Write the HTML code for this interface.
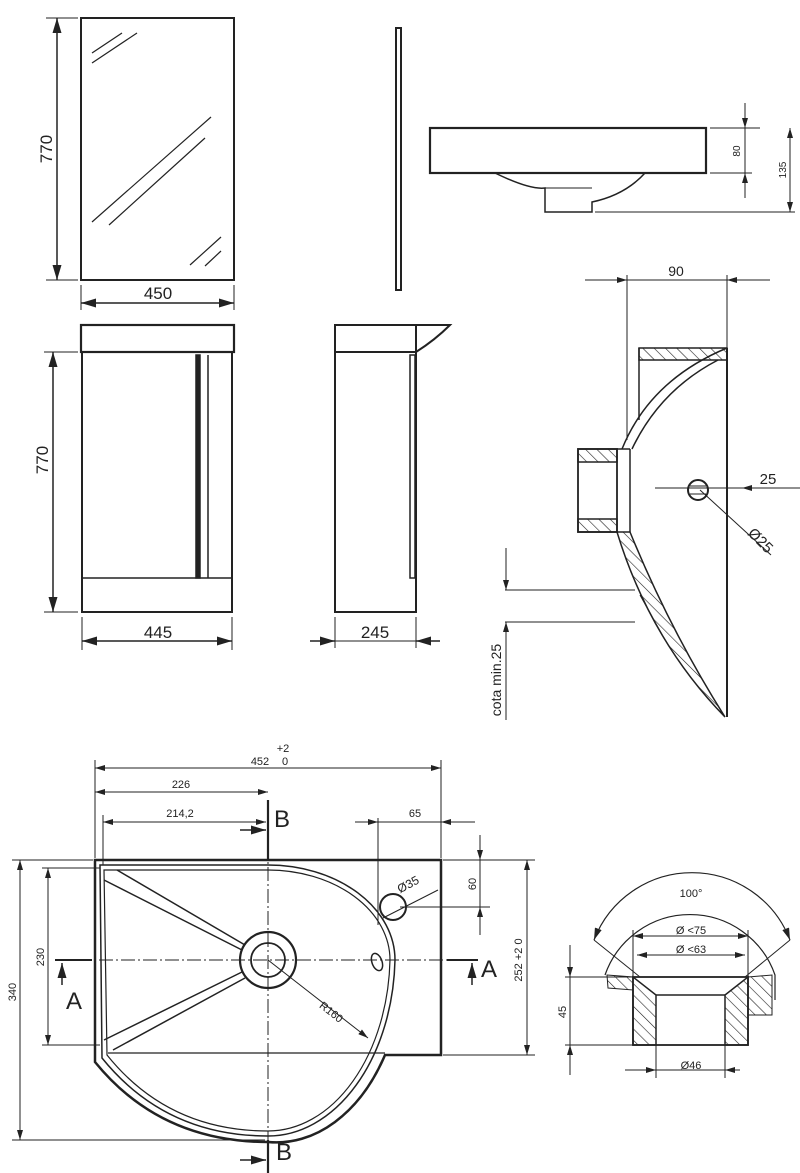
<!DOCTYPE html>
<html><head><meta charset="utf-8"><style>
html,body{margin:0;padding:0;background:#fff}
svg{display:block}
text{font-family:"Liberation Sans",sans-serif;fill:#222}
</style></head><body>
<svg width="800" height="1173" viewBox="0 0 800 1173" xmlns="http://www.w3.org/2000/svg">
<defs>
<marker id="a" viewBox="0 0 10 6" refX="10" refY="3" markerWidth="10" markerHeight="6" orient="auto-start-reverse"><path d="M0,0L10,3L0,6z" fill="#222"/></marker>
<pattern id="h" width="8" height="8" patternUnits="userSpaceOnUse" patternTransform="rotate(-45)"><line x1="0" y1="0" x2="0" y2="8" stroke="#222" stroke-width="1.2"/></pattern>
</defs>
<g fill="none" stroke="#222" stroke-width="1.5">
<!-- mirror -->
<rect x="81" y="18" width="153" height="262" stroke-width="2"/>
<line x1="92" y1="53" x2="122" y2="33" stroke-width="1.2"/><line x1="92" y1="63" x2="137" y2="33" stroke-width="1.2"/>
<line x1="92" y1="222" x2="211" y2="117" stroke-width="1.2"/><line x1="109" y1="225" x2="205" y2="138" stroke-width="1.2"/>
<line x1="190" y1="265" x2="221" y2="237" stroke-width="1.2"/><line x1="205" y1="266" x2="221" y2="251" stroke-width="1.2"/>
<line x1="46" y1="18" x2="78" y2="18" stroke-width="1"/><line x1="46" y1="280" x2="78" y2="280" stroke-width="1"/>
<line x1="57" y1="18" x2="57" y2="280" marker-start="url(#a)" marker-end="url(#a)"/>
<line x1="81" y1="285" x2="81" y2="310" stroke-width="1"/><line x1="234" y1="285" x2="234" y2="310" stroke-width="1"/>
<line x1="81" y1="303" x2="234" y2="303" marker-start="url(#a)" marker-end="url(#a)"/>
<!-- cabinet front -->
<rect x="81" y="325" width="153" height="27" stroke-width="2.2"/>
<rect x="82" y="352" width="150" height="260" stroke-width="2"/>
<line x1="82" y1="578" x2="232" y2="578"/>
<rect x="196" y="355" width="4" height="223" fill="#222"/>
<line x1="208" y1="355" x2="208" y2="578"/>
<line x1="44" y1="352" x2="78" y2="352" stroke-width="1"/><line x1="44" y1="612" x2="78" y2="612" stroke-width="1"/>
<line x1="53" y1="352" x2="53" y2="612" marker-start="url(#a)" marker-end="url(#a)"/>
<line x1="82" y1="617" x2="82" y2="650" stroke-width="1"/><line x1="232" y1="617" x2="232" y2="650" stroke-width="1"/>
<line x1="82" y1="641" x2="232" y2="641" marker-start="url(#a)" marker-end="url(#a)"/>
<!-- side mirror -->
<rect x="396" y="28" width="5" height="262" stroke-width="2"/>
<!-- side cabinet -->
<rect x="335" y="325" width="81" height="27" stroke-width="2"/>
<path d="M416,325 L450,325 Q435,340 416,352" stroke-width="2"/>
<rect x="335" y="352" width="81" height="260" stroke-width="2"/>
<rect x="410" y="355" width="5" height="223"/>
<line x1="335" y1="617" x2="335" y2="648" stroke-width="1"/><line x1="416" y1="617" x2="416" y2="648" stroke-width="1"/>
<line x1="310" y1="641" x2="335" y2="641" marker-end="url(#a)"/><line x1="440" y1="641" x2="416" y2="641" marker-end="url(#a)"/>
<line x1="335" y1="641" x2="416" y2="641" stroke-width="1"/>
<!-- basin side -->
<rect x="430" y="128" width="276" height="45" stroke-width="2.2"/>
<path d="M495,173 Q530,190 545,188 L545,212 L592,212 L592,202 Q625,195 645,173"/>
<line x1="545" y1="188" x2="592" y2="188" stroke-width="1"/>
<g stroke-width="1">
<line x1="710" y1="128" x2="760" y2="128"/><line x1="710" y1="173" x2="752" y2="173"/><line x1="595" y1="212" x2="795" y2="212"/>
<line x1="745" y1="103" x2="745" y2="128" marker-end="url(#a)"/><line x1="745" y1="198" x2="745" y2="173" marker-end="url(#a)"/>
<line x1="745" y1="128" x2="745" y2="173"/>
<line x1="790" y1="128" x2="790" y2="212" marker-start="url(#a)" marker-end="url(#a)"/>
</g>
<!-- section view right -->
<g stroke-width="1">
<line x1="585" y1="280" x2="627" y2="280" marker-end="url(#a)"/><line x1="770" y1="280" x2="727" y2="280" marker-end="url(#a)"/>
<line x1="627" y1="280" x2="727" y2="280"/>
<line x1="627" y1="275" x2="627" y2="440"/><line x1="727" y1="275" x2="727" y2="348"/>
</g>
<rect x="639" y="348" width="88" height="12" fill="url(#h)"/>
<line x1="639" y1="348" x2="639" y2="420"/>
<line x1="727" y1="348" x2="727" y2="717" stroke-width="2"/>
<path d="M727,348 Q650,380 622,449" fill="none"/>
<path d="M718,360 Q660,390 632,449" fill="none"/>
<rect x="578" y="449" width="39" height="83" stroke-width="1.8"/>
<rect x="578" y="449" width="39" height="13" fill="url(#h)"/>
<rect x="578" y="519" width="39" height="13" fill="url(#h)"/>
<line x1="617" y1="449" x2="630" y2="449"/><line x1="630" y1="449" x2="630" y2="532"/>
<path d="M617,532 Q650,640 725,717 Q670,630 630,532 Z" fill="url(#h)"/>
<circle cx="698" cy="490" r="10" stroke-width="2"/>
<line x1="690" y1="486" x2="706" y2="486" stroke-width="1"/><line x1="690" y1="494" x2="706" y2="494" stroke-width="1"/>
<g stroke-width="1">
<line x1="655" y1="488" x2="780" y2="488"/><line x1="800" y1="488" x2="742" y2="488" marker-end="url(#a)"/>
<line x1="700" y1="490" x2="771" y2="555"/>
<line x1="505" y1="590" x2="635" y2="590"/><line x1="505" y1="622" x2="635" y2="622"/>
<line x1="506" y1="548" x2="506" y2="590" marker-end="url(#a)"/><line x1="506" y1="720" x2="506" y2="622" marker-end="url(#a)"/>
<line x1="640" y1="595" x2="665" y2="640"/>
</g>
<!-- plan view -->
<g stroke-width="1">
<line x1="95" y1="760" x2="95" y2="858"/><line x1="441" y1="760" x2="441" y2="858"/>
<line x1="95" y1="768" x2="441" y2="768" marker-start="url(#a)" marker-end="url(#a)"/>
<line x1="95" y1="792" x2="268" y2="792" marker-start="url(#a)" marker-end="url(#a)"/>
<line x1="103" y1="815" x2="103" y2="865"/>
<line x1="103" y1="822" x2="266" y2="822" marker-start="url(#a)" marker-end="url(#a)"/>
<line x1="355" y1="822" x2="378" y2="822" marker-end="url(#a)"/><line x1="475" y1="822" x2="441" y2="822" marker-end="url(#a)"/>
<line x1="378" y1="822" x2="441" y2="822"/>
<line x1="378" y1="818" x2="378" y2="925"/>
<line x1="443" y1="860" x2="535" y2="860"/><line x1="400" y1="907" x2="490" y2="907"/>
<line x1="480" y1="835" x2="480" y2="860" marker-end="url(#a)"/><line x1="480" y1="935" x2="480" y2="907" marker-end="url(#a)"/>
<line x1="480" y1="860" x2="480" y2="907"/>
<line x1="527" y1="860" x2="527" y2="1055" marker-start="url(#a)" marker-end="url(#a)"/>
<line x1="443" y1="1055" x2="535" y2="1055"/>
<line x1="12" y1="860" x2="93" y2="860"/><line x1="12" y1="1140" x2="265" y2="1140"/>
<line x1="20" y1="860" x2="20" y2="1140" marker-start="url(#a)" marker-end="url(#a)"/>
<line x1="42" y1="868" x2="100" y2="868"/><line x1="42" y1="1045" x2="100" y2="1045"/>
<line x1="48" y1="868" x2="48" y2="1045" marker-start="url(#a)" marker-end="url(#a)"/>
<line x1="55" y1="960" x2="470" y2="960" stroke-dasharray="14,3,2,3"/>
<line x1="268" y1="845" x2="268" y2="1150" stroke-dasharray="14,3,2,3"/>
<line x1="268" y1="960" x2="368" y2="1038" marker-end="url(#a)"/>
<line x1="383" y1="918" x2="438" y2="890"/>
</g>
<line x1="55" y1="960" x2="92" y2="960" stroke-width="2"/><line x1="62" y1="985" x2="62" y2="963" marker-end="url(#a)"/>
<line x1="447" y1="960" x2="478" y2="960" stroke-width="2"/><line x1="472" y1="985" x2="472" y2="963" marker-end="url(#a)"/>
<line x1="268" y1="800" x2="268" y2="860" stroke-width="2.2"/><line x1="240" y1="830" x2="266" y2="830" marker-end="url(#a)"/>
<line x1="268" y1="1140" x2="268" y2="1173" stroke-width="2.2"/><line x1="240" y1="1160" x2="266" y2="1160" marker-end="url(#a)"/>
<path d="M95,860 L441,860 L441,1055 L385,1055 A127,182 0 0 1 268,1142 Q160,1142 95,1062 Z" stroke-width="2.5"/>
<path d="M100,865 L268,865 A127,95 0 0 1 395,960 A127,182 0 0 1 268,1136 Q165,1136 102,1058 Z" stroke-width="1.5"/>
<path d="M104,870 L268,870 A122,90 0 0 1 390,960 A122,177 0 0 1 268,1131 Q168,1131 107,1055 Z" stroke-width="1.2"/>
<line x1="108" y1="1053" x2="385" y2="1053" stroke-width="1.2"/>
<line x1="117" y1="870" x2="245" y2="945"/><line x1="104" y1="880" x2="242" y2="950"/>
<line x1="104" y1="1040" x2="242" y2="972"/><line x1="113" y1="1050" x2="245" y2="978"/>
<circle cx="268" cy="960" r="28" stroke-width="2.2"/>
<circle cx="268" cy="960" r="17" stroke-width="1.8"/>
<circle cx="393" cy="907" r="13" stroke-width="2"/>
<ellipse cx="377" cy="962" rx="5" ry="9" stroke-width="1.5" transform="rotate(-20 377 962)"/>
<!-- bottom right detail -->
<path d="M594,940 A105,105 0 0 1 790,940" stroke-width="1.2" marker-start="url(#a)" marker-end="url(#a)"/>
<path d="M605,975 A90,90 0 0 1 775,975 L775,1000" stroke-width="1.2"/>
<line x1="594" y1="940" x2="640" y2="977" stroke-width="1"/><line x1="790" y1="940" x2="745" y2="977" stroke-width="1"/>
<path d="M607,975 L633,977 L633,990 L608,988 Z" fill="url(#h)" stroke-width="1"/>
<path d="M748,977 L772,975 L772,1015 L748,1015 Z" fill="url(#h)" stroke-width="1"/>
<rect x="633" y="977" width="115" height="68" stroke-width="1.8"/>
<path d="M633,977 L656,995 L656,1045 L633,1045 Z" fill="url(#h)" stroke-width="1.5"/>
<path d="M748,977 L725,995 L725,1045 L748,1045 Z" fill="url(#h)" stroke-width="1.5"/>
<line x1="656" y1="995" x2="725" y2="995" stroke-width="1.5"/>
<g stroke-width="1">
<line x1="633" y1="936" x2="748" y2="936" marker-start="url(#a)" marker-end="url(#a)"/>
<line x1="637" y1="955" x2="745" y2="955" marker-start="url(#a)" marker-end="url(#a)"/>
<line x1="633" y1="930" x2="633" y2="977"/><line x1="748" y1="930" x2="748" y2="977"/>
<line x1="565" y1="977" x2="633" y2="977"/><line x1="565" y1="1045" x2="633" y2="1045"/>
<line x1="570" y1="945" x2="570" y2="977" marker-end="url(#a)"/><line x1="570" y1="1075" x2="570" y2="1045" marker-end="url(#a)"/>
<line x1="570" y1="977" x2="570" y2="1045"/>
<line x1="656" y1="1045" x2="656" y2="1078"/><line x1="725" y1="1045" x2="725" y2="1078"/>
<line x1="625" y1="1070" x2="656" y2="1070" marker-end="url(#a)"/><line x1="740" y1="1070" x2="725" y2="1070" marker-end="url(#a)"/>
<line x1="656" y1="1070" x2="725" y2="1070"/>
</g>
</g>
<!-- texts -->
<text x="52" y="149" font-size="17" transform="rotate(-90 52 149)" text-anchor="middle">770</text>
<text x="158" y="299" font-size="17" text-anchor="middle">450</text>
<text x="48" y="460" font-size="17" transform="rotate(-90 48 460)" text-anchor="middle">770</text>
<text x="158" y="638" font-size="17" text-anchor="middle">445</text>
<text x="375" y="638" font-size="17" text-anchor="middle">245</text>
<text x="740" y="151" font-size="10" transform="rotate(-90 740 151)" text-anchor="middle">80</text>
<text x="786" y="170" font-size="10" transform="rotate(-90 786 170)" text-anchor="middle">135</text>
<text x="676" y="276" font-size="14" text-anchor="middle">90</text>
<text x="768" y="484" font-size="15" text-anchor="middle">25</text>
<text x="757" y="544" font-size="15" transform="rotate(45 757 544)" text-anchor="middle">Ø25</text>
<text x="501" y="680" font-size="14" transform="rotate(-90 501 680)" text-anchor="middle">cota min.25</text>
<text x="260" y="765" font-size="11" text-anchor="middle">452</text>
<text x="283" y="752" font-size="11" text-anchor="middle">+2</text>
<text x="285" y="765" font-size="11" text-anchor="middle">0</text>
<text x="181" y="788" font-size="11" text-anchor="middle">226</text>
<text x="180" y="817" font-size="11" text-anchor="middle">214,2</text>
<text x="415" y="817" font-size="11" text-anchor="middle">65</text>
<text x="476" y="884" font-size="11" transform="rotate(-90 476 884)" text-anchor="middle">60</text>
<text x="410" y="888" font-size="12" transform="rotate(-28 410 888)" text-anchor="middle">Ø35</text>
<text x="16" y="992" font-size="11" transform="rotate(-90 16 992)" text-anchor="middle">340</text>
<text x="44" y="957" font-size="11" transform="rotate(-90 44 957)" text-anchor="middle">230</text>
<text x="522" y="960" font-size="11" transform="rotate(-90 522 960)" text-anchor="middle">252 +2 0</text>
<text x="329" y="1015" font-size="11" transform="rotate(38 329 1015)" text-anchor="middle">R160</text>
<text x="274" y="827" font-size="24">B</text>
<text x="276" y="1160" font-size="24">B</text>
<text x="66" y="1009" font-size="24">A</text>
<text x="481" y="977" font-size="24">A</text>
<text x="691" y="897" font-size="11" text-anchor="middle">100°</text>
<text x="691" y="934" font-size="11" text-anchor="middle">Ø &lt;75</text>
<text x="691" y="953" font-size="11" text-anchor="middle">Ø &lt;63</text>
<text x="566" y="1012" font-size="11" transform="rotate(-90 566 1012)" text-anchor="middle">45</text>
<text x="691" y="1069" font-size="11" text-anchor="middle">Ø46</text>
</svg>
</body></html>
